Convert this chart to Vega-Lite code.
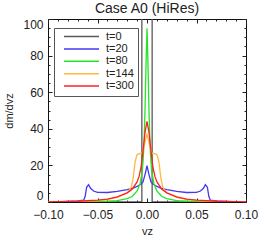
{
  "$schema": "https://vega.github.io/schema/vega-lite/v6.json",
  "width": 198,
  "height": 183,
  "autosize": "none",
  "padding": {"left": 48, "top": 19, "right": 20, "bottom": 45},
  "background": "white",
  "title": {"text": "Case A0 (HiRes)", "fontSize": 14, "fontWeight": "normal", "font": "Liberation Sans", "color": "#222", "offset": 2, "anchor": "middle"},
  "config": {
    "view": {"stroke": "#111", "strokeWidth": 1},
    "axis": {"labelFont": "Liberation Sans", "titleFont": "Liberation Sans", "labelColor": "#222", "titleColor": "#222", "domain": false, "tickColor": "#222", "grid": false, "labelFlush": false, "labelOverlap": false}
  },
  "data": {"values": [
    {"s": "t=0", "v": -0.1, "d": 0}, {"s": "t=0", "v": -0.0052, "d": 0}, {"s": "t=0", "v": -0.0052, "d": 120}, {"s": "t=0", "v": 0.0052, "d": 120}, {"s": "t=0", "v": 0.0052, "d": 0}, {"s": "t=0", "v": 0.1, "d": 0},

    {"s": "t=20", "v": -0.1, "d": 0}, {"s": "t=20", "v": -0.09, "d": 0.1}, {"s": "t=20", "v": -0.08, "d": 0.3}, {"s": "t=20", "v": -0.07, "d": 0.6}, {"s": "t=20", "v": -0.064, "d": 1.0}, {"s": "t=20", "v": -0.0625, "d": 3}, {"s": "t=20", "v": -0.061, "d": 8}, {"s": "t=20", "v": -0.059, "d": 9.5}, {"s": "t=20", "v": -0.057, "d": 7.5}, {"s": "t=20", "v": -0.054, "d": 6}, {"s": "t=20", "v": -0.05, "d": 5.3}, {"s": "t=20", "v": -0.04, "d": 5.2}, {"s": "t=20", "v": -0.03, "d": 5.8}, {"s": "t=20", "v": -0.02, "d": 6.8}, {"s": "t=20", "v": -0.014, "d": 7.6}, {"s": "t=20", "v": -0.01, "d": 8.5}, {"s": "t=20", "v": -0.006, "d": 9.8}, {"s": "t=20", "v": -0.004, "d": 11}, {"s": "t=20", "v": -0.002, "d": 15}, {"s": "t=20", "v": 0, "d": 19.8},
    {"s": "t=20", "v": 0.002, "d": 15}, {"s": "t=20", "v": 0.004, "d": 11}, {"s": "t=20", "v": 0.006, "d": 9.8}, {"s": "t=20", "v": 0.01, "d": 8.5}, {"s": "t=20", "v": 0.014, "d": 7.6}, {"s": "t=20", "v": 0.02, "d": 6.8}, {"s": "t=20", "v": 0.03, "d": 5.8}, {"s": "t=20", "v": 0.04, "d": 5.2}, {"s": "t=20", "v": 0.05, "d": 5.3}, {"s": "t=20", "v": 0.054, "d": 6}, {"s": "t=20", "v": 0.057, "d": 7.5}, {"s": "t=20", "v": 0.059, "d": 9.5}, {"s": "t=20", "v": 0.061, "d": 8}, {"s": "t=20", "v": 0.0625, "d": 3}, {"s": "t=20", "v": 0.064, "d": 1.0}, {"s": "t=20", "v": 0.07, "d": 0.6}, {"s": "t=20", "v": 0.08, "d": 0.3}, {"s": "t=20", "v": 0.09, "d": 0.1}, {"s": "t=20", "v": 0.1, "d": 0},

    {"s": "t=80", "v": -0.1, "d": 0}, {"s": "t=80", "v": -0.05, "d": 0.2}, {"s": "t=80", "v": -0.03, "d": 0.8}, {"s": "t=80", "v": -0.02, "d": 1.8}, {"s": "t=80", "v": -0.015, "d": 3}, {"s": "t=80", "v": -0.01, "d": 6}, {"s": "t=80", "v": -0.007, "d": 10}, {"s": "t=80", "v": -0.005, "d": 16}, {"s": "t=80", "v": -0.004, "d": 22}, {"s": "t=80", "v": -0.003, "d": 32}, {"s": "t=80", "v": -0.002, "d": 50}, {"s": "t=80", "v": -0.001, "d": 75}, {"s": "t=80", "v": 0, "d": 95},
    {"s": "t=80", "v": 0.001, "d": 75}, {"s": "t=80", "v": 0.002, "d": 50}, {"s": "t=80", "v": 0.003, "d": 32}, {"s": "t=80", "v": 0.004, "d": 22}, {"s": "t=80", "v": 0.005, "d": 16}, {"s": "t=80", "v": 0.007, "d": 10}, {"s": "t=80", "v": 0.01, "d": 6}, {"s": "t=80", "v": 0.015, "d": 3}, {"s": "t=80", "v": 0.02, "d": 1.8}, {"s": "t=80", "v": 0.03, "d": 0.8}, {"s": "t=80", "v": 0.05, "d": 0.2}, {"s": "t=80", "v": 0.1, "d": 0},

    {"s": "t=144", "v": -0.1, "d": 0.1}, {"s": "t=144", "v": -0.07, "d": 0.3}, {"s": "t=144", "v": -0.05, "d": 0.8}, {"s": "t=144", "v": -0.04, "d": 1.4}, {"s": "t=144", "v": -0.03, "d": 2.5}, {"s": "t=144", "v": -0.02, "d": 5}, {"s": "t=144", "v": -0.016, "d": 8}, {"s": "t=144", "v": -0.014, "d": 13}, {"s": "t=144", "v": -0.012, "d": 22}, {"s": "t=144", "v": -0.01, "d": 26}, {"s": "t=144", "v": -0.007, "d": 26.5}, {"s": "t=144", "v": -0.005, "d": 26.5}, {"s": "t=144", "v": -0.003, "d": 30}, {"s": "t=144", "v": -0.0015, "d": 34}, {"s": "t=144", "v": 0, "d": 37},
    {"s": "t=144", "v": 0.0015, "d": 34}, {"s": "t=144", "v": 0.003, "d": 30}, {"s": "t=144", "v": 0.005, "d": 26.5}, {"s": "t=144", "v": 0.007, "d": 26.5}, {"s": "t=144", "v": 0.01, "d": 26}, {"s": "t=144", "v": 0.012, "d": 22}, {"s": "t=144", "v": 0.014, "d": 13}, {"s": "t=144", "v": 0.016, "d": 8}, {"s": "t=144", "v": 0.02, "d": 5}, {"s": "t=144", "v": 0.03, "d": 2.5}, {"s": "t=144", "v": 0.04, "d": 1.4}, {"s": "t=144", "v": 0.05, "d": 0.8}, {"s": "t=144", "v": 0.07, "d": 0.3}, {"s": "t=144", "v": 0.1, "d": 0.1},

    {"s": "t=300", "v": -0.1, "d": 0.1}, {"s": "t=300", "v": -0.07, "d": 0.4}, {"s": "t=300", "v": -0.05, "d": 1}, {"s": "t=300", "v": -0.04, "d": 1.6}, {"s": "t=300", "v": -0.03, "d": 2.8}, {"s": "t=300", "v": -0.02, "d": 5}, {"s": "t=300", "v": -0.015, "d": 7}, {"s": "t=300", "v": -0.01, "d": 11}, {"s": "t=300", "v": -0.008, "d": 14}, {"s": "t=300", "v": -0.006, "d": 19}, {"s": "t=300", "v": -0.004, "d": 28}, {"s": "t=300", "v": -0.002, "d": 38}, {"s": "t=300", "v": 0, "d": 44},
    {"s": "t=300", "v": 0.002, "d": 38}, {"s": "t=300", "v": 0.004, "d": 28}, {"s": "t=300", "v": 0.006, "d": 19}, {"s": "t=300", "v": 0.008, "d": 14}, {"s": "t=300", "v": 0.01, "d": 11}, {"s": "t=300", "v": 0.015, "d": 7}, {"s": "t=300", "v": 0.02, "d": 5}, {"s": "t=300", "v": 0.03, "d": 2.8}, {"s": "t=300", "v": 0.04, "d": 1.6}, {"s": "t=300", "v": 0.05, "d": 1}, {"s": "t=300", "v": 0.07, "d": 0.4}, {"s": "t=300", "v": 0.1, "d": 0.1}
  ]},
  "resolve": {"axis": {"x": "independent", "y": "independent"}},
  "layer": [
    {
      "mark": {"type": "line", "strokeWidth": 1.3, "clip": true},
      "encoding": {
        "x": {"field": "v", "type": "quantitative", "scale": {"domain": [-0.1, 0.1], "nice": false, "zero": false},
          "axis": {"orient": "bottom", "values": [-0.1, -0.05, 0, 0.05, 0.1], "format": ".2f", "tickSize": -4, "labelPadding": 11, "labelFontSize": 12, "title": "vz", "titleFontSize": 11, "titleFontWeight": "normal", "titlePadding": 5}},
        "y": {"field": "d", "type": "quantitative", "scale": {"domain": [0, 100], "nice": false},
          "axis": {"orient": "left", "values": [0, 20, 40, 60, 80, 100], "tickSize": -4, "labelPadding": 9, "labelFontSize": 12, "labelFlush": true, "title": "dm/dvz", "titleFontSize": 11, "titleFontWeight": "normal", "titlePadding": 8}},
        "color": {"field": "s", "type": "nominal", "sort": ["t=0", "t=20", "t=80", "t=144", "t=300"],
          "scale": {"domain": ["t=0", "t=20", "t=80", "t=144", "t=300"], "range": ["#5a5a5a", "#4438f0", "#22e622", "#ffb840", "#ff2020"]},
          "legend": {"title": null, "orient": "none", "legendX": 6, "legendY": 9, "symbolType": "stroke", "symbolSize": 1225, "symbolStrokeWidth": 1.5, "clipHeight": 9, "labelFont": "Liberation Sans", "labelFontSize": 11, "labelColor": "#222", "strokeColor": "#555", "padding": 4, "rowPadding": 0.4, "labelOffset": 6, "symbolOffset": 5}},
        "order": {"field": "s"}
      }
    },
    {
      "mark": {"type": "line", "opacity": 0, "clip": true},
      "encoding": {
        "x": {"field": "v", "type": "quantitative", "axis": {"orient": "bottom", "values": [-0.09, -0.08, -0.07, -0.06, -0.04, -0.03, -0.02, -0.01, 0.01, 0.02, 0.03, 0.04, 0.06, 0.07, 0.08, 0.09], "tickSize": -2, "labels": false, "title": null}},
        "y": {"field": "d", "type": "quantitative", "axis": {"orient": "left", "values": [5, 10, 15, 25, 30, 35, 45, 50, 55, 65, 70, 75, 85, 90, 95], "tickSize": -2, "labels": false, "title": null}}
      }
    },
    {
      "mark": {"type": "line", "opacity": 0, "clip": true},
      "encoding": {
        "x": {"field": "v", "type": "quantitative", "axis": {"orient": "top", "values": [-0.1, -0.05, 0, 0.05, 0.1], "tickSize": -4, "labels": false, "title": null}},
        "y": {"field": "d", "type": "quantitative", "axis": {"orient": "right", "values": [0, 20, 40, 60, 80, 100], "tickSize": -4, "labels": false, "title": null}}
      }
    },
    {
      "mark": {"type": "line", "opacity": 0, "clip": true},
      "encoding": {
        "x": {"field": "v", "type": "quantitative", "axis": {"orient": "top", "values": [-0.09, -0.08, -0.07, -0.06, -0.04, -0.03, -0.02, -0.01, 0.01, 0.02, 0.03, 0.04, 0.06, 0.07, 0.08, 0.09], "tickSize": -2, "labels": false, "title": null}},
        "y": {"field": "d", "type": "quantitative", "axis": {"orient": "right", "values": [5, 10, 15, 25, 30, 35, 45, 50, 55, 65, 70, 75, 85, 90, 95], "tickSize": -2, "labels": false, "title": null}}
      }
    }
  ]
}
